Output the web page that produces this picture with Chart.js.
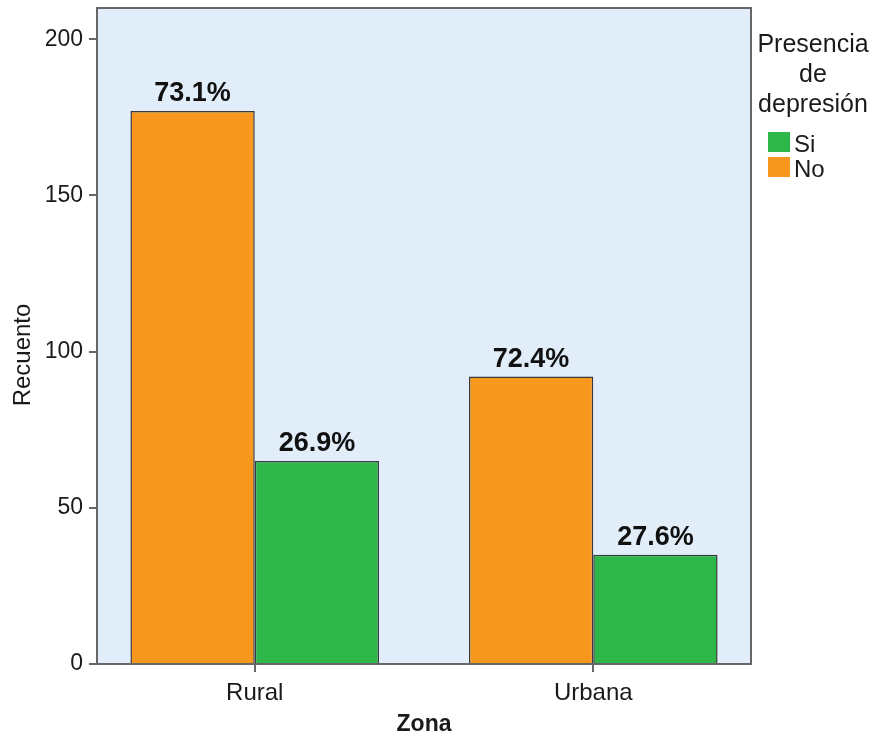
<!DOCTYPE html>
<html>
<head>
<meta charset="utf-8">
<script src="https://cdn.jsdelivr.net/npm/chart.js@4"></script>
<style>
  html, body { margin: 0; padding: 0; background: #ffffff; }
  #wrap { width: 878px; height: 736px; }
</style>
</head>
<body>
<div id="wrap"><canvas id="c" width="878" height="736"></canvas></div>
<script>
// ---- data ----
const categories = ['Rural', 'Urbana'];
const seriesNames = ['No', 'Si'];
const valuesNo = [177, 92];
const valuesSi = [65, 35];
const yTicks = [0, 50, 100, 150, 200];
const yMax = 210;
const legendTitle = ['Presencia', 'de', 'depresión'];
const xTitle = 'Zona';
const yTitle = 'Recuento';

// ---- style ----
const colNo = '#F7971E';
const colSi = '#2DB74B';
const plotBg = '#E1EDF9';
const frame = '#666666';
const txt = '#1a1a1a';
const FONT = 'Liberation Sans, Arial, sans-serif';
const EDGE = 0.466; // category-scale margin at each side (in category units)

const plotPlugin = {
  id: 'plotDeco',
  afterLayout(chart) {
    const x = chart.scales.x;
    x._startValue = -EDGE;
    x._valueRange = (categories.length - 1) + 2 * EDGE;
  },
  beforeDraw(chart) {
    const a = chart.chartArea, ctx = chart.ctx;
    ctx.save();
    ctx.fillStyle = plotBg;
    ctx.fillRect(a.left, a.top, a.right - a.left, a.bottom - a.top);
    ctx.restore();
  },
  afterDatasetsDraw(chart) {
    const ctx = chart.ctx;
    ctx.save();
    ctx.font = 'bold 27px ' + FONT;
    ctx.fillStyle = '#111';
    ctx.textAlign = 'center';
    ctx.textBaseline = 'alphabetic';
    chart.data.datasets.forEach((ds, di) => {
      const meta = chart.getDatasetMeta(di);
      meta.data.forEach((el, i) => {
        const total = chart.data.datasets.reduce((s, d) => s + d.data[i], 0);
        const pct = (ds.data[i] / total * 100).toFixed(1) + '%';
        ctx.fillText(pct, el.x, el.y - 10);
      });
    });
    ctx.restore();
  },
  afterDraw(chart) {
    const a = chart.chartArea, ctx = chart.ctx;
    ctx.save();
    // frame
    ctx.strokeStyle = frame;
    ctx.lineWidth = 2;
    ctx.strokeRect(a.left, a.top, a.right - a.left, a.bottom - a.top);
    // y title
    ctx.fillStyle = txt;
    ctx.font = '24px ' + FONT;
    ctx.textAlign = 'center';
    ctx.textBaseline = 'middle';
    ctx.translate(23, a.top + (a.bottom - a.top) / 2 + 19);
    ctx.rotate(-Math.PI / 2);
    ctx.fillText(yTitle, 0, 0);
    ctx.restore();

    // legend
    ctx.save();
    const lx = a.right;
    ctx.fillStyle = txt;
    ctx.font = '25px ' + FONT;
    ctx.textAlign = 'center';
    ctx.textBaseline = 'alphabetic';
    legendTitle.forEach((t, i) => ctx.fillText(t, lx + 62, a.top + 44 + i * 30));
    const order = [1, 0]; // Si first, then No
    ctx.font = '24px ' + FONT;
    ctx.textAlign = 'left';
    order.forEach((di, k) => {
      const ds = chart.data.datasets[di];
      const by = a.top + 124 + k * 25;
      ctx.fillStyle = ds.backgroundColor;
      ctx.fillRect(lx + 17, by, 22, 20);
      ctx.fillStyle = txt;
      ctx.fillText(ds.label, lx + 43, by + 20);
    });
    ctx.restore();
  }
};

new Chart(document.getElementById('c'), {
  type: 'bar',
  data: {
    labels: categories,
    datasets: [
      { label: seriesNames[0], data: valuesNo, backgroundColor: colNo, borderColor: '#3a3a3a', borderWidth: 1.5 },
      { label: seriesNames[1], data: valuesSi, backgroundColor: colSi, borderColor: '#3a3a3a', borderWidth: 1.5 }
    ]
  },
  options: {
    responsive: false,
    animation: false,
    layout: { padding: { left: 0, right: 127, top: 8, bottom: 0 } },
    datasets: { bar: { categoryPercentage: 0.7345, barPercentage: 1 } },
    plugins: { legend: { display: false }, tooltip: { enabled: false } },
    scales: {
      x: {
        grid: { display: true, drawOnChartArea: false, offset: false, tickLength: 8, color: frame, lineWidth: 2 },
        border: { display: true, color: frame, width: 2 },
        ticks: { color: txt, font: { family: FONT, size: 24 }, padding: 7, maxRotation: 0 },
        title: { display: true, text: xTitle, color: txt, font: { family: FONT, size: 23, weight: 'bold' }, padding: { top: 0, bottom: -2 } },
        afterFit(s) { s.height = 72; s.paddingLeft = 0; s.paddingRight = 0; }
      },
      y: {
        min: 0, max: yMax,
        afterBuildTicks(s) { s.ticks = yTicks.map(v => ({ value: v })); },
        grid: { display: true, drawOnChartArea: false, tickLength: 8, color: frame, lineWidth: 2 },
        border: { display: true, color: frame, width: 2 },
        ticks: { color: txt, font: { family: FONT, size: 23 }, padding: 6 },
        afterFit(s) { s.width = 97; s.paddingTop = 0; s.paddingBottom = 0; }
      }
    }
  },
  plugins: [plotPlugin]
});
</script>
</body>
</html>
